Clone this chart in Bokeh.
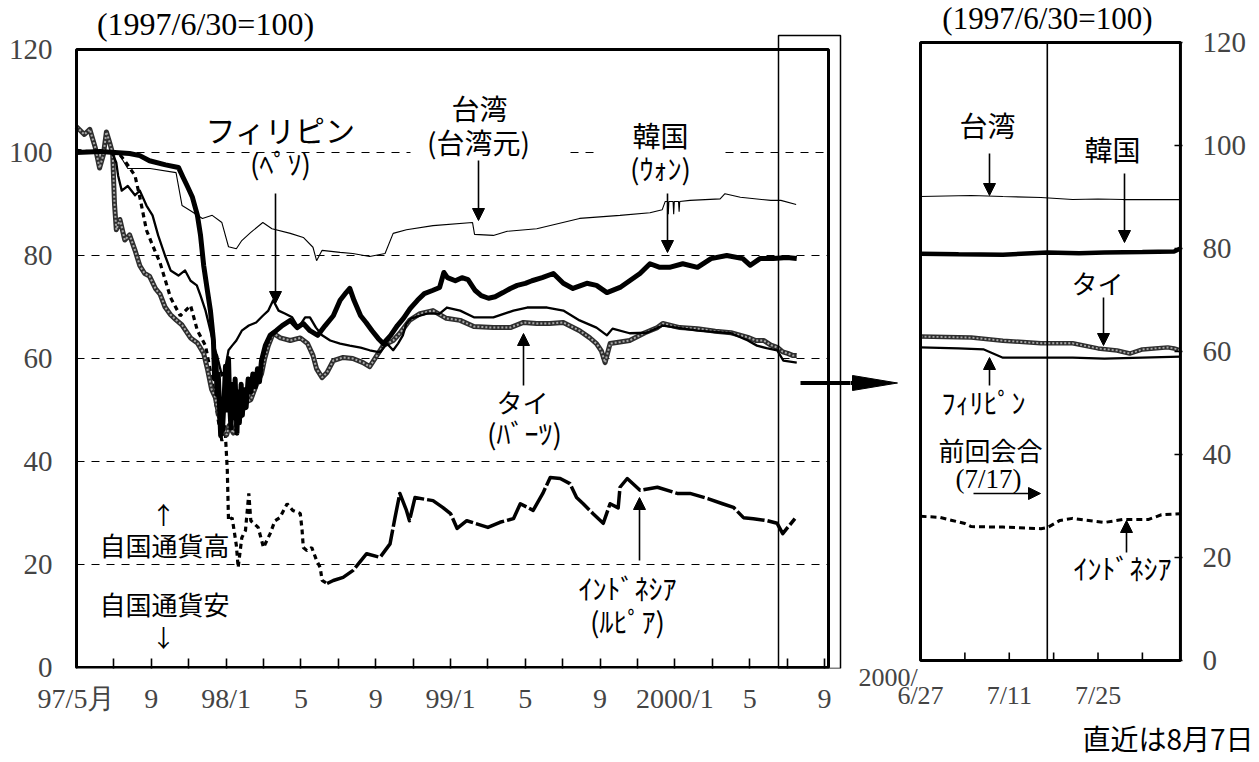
import pandas as pd
from bokeh.plotting import figure
from bokeh.models import Range1d, FixedTicker, Label, Arrow, NormalHead, Title
from bokeh.layouts import row
from bokeh.embed import file_html
from bokeh.resources import INLINE

# ---------------- data : left panel (1997/6/30 = 100) ----------------
twd_dates = ["1997-05-01","1997-07-08","1997-07-24","1997-08-30","1997-10-11","1997-10-21","1997-11-04","1997-11-23","1997-12-09","1997-12-25",
             "1998-01-05","1998-01-18","1998-01-27","1998-02-10","1998-02-28","1998-03-15","1998-04-14","1998-05-05","1998-05-21","1998-05-27",
             "1998-06-05","1998-07-04","1998-07-25","1998-08-22","1998-09-16","1998-09-29","1998-10-21","1998-12-03","1999-02-06","1999-02-09",
             "1999-03-10","1999-04-02","1999-05-20","1999-07-29","1999-10-03","1999-11-21","1999-12-11","1999-12-16","1999-12-20","1999-12-21",
             "1999-12-22","1999-12-29","1999-12-30","1999-12-31","2000-01-07","2000-01-08","2000-01-09","2000-01-26","2000-03-14","2000-03-22",
             "2000-04-16","2000-06-05","2000-06-21","2000-07-16"]
twd_vals = [100,100,96.9,96.9,96.1,89.7,88.7,87.2,87.8,86.4,
            81.7,81.3,82.9,84.5,86.4,85.2,84.3,83.5,81.6,79.0,
            81.0,80.6,80.4,79.8,80.4,84.3,85.0,85.8,86.4,84.1,
            83.9,84.7,85.2,87.2,87.8,88.3,88.9,90.5,90.5,88.0,
            90.5,90.5,88.0,90.5,90.5,88.5,90.5,90.7,91.0,92.0,
            91.3,90.7,90.7,89.9]

kor_dates = ["1997-05-01","1997-06-09","1997-07-27","1997-08-13","1997-08-29","1997-09-24","1997-10-15","1997-10-23","1997-10-30","1997-11-07",
             "1997-11-15","1997-11-20","1997-11-25","1997-12-01","1997-12-06",
             "1997-12-11","1997-12-13","1997-12-15","1997-12-17","1997-12-19","1997-12-22","1997-12-23","1997-12-24","1997-12-26","1997-12-29",
             "1997-12-31","1998-01-02","1998-01-05","1998-01-07","1998-01-09","1998-01-12","1998-01-14","1998-01-16","1998-01-19","1998-01-21",
             "1998-01-23","1998-01-26","1998-01-28","1998-01-30","1998-02-03","1998-02-06","1998-02-10","1998-02-13","1998-02-17","1998-02-20",
             "1998-02-23","1998-02-26",
             "1998-03-04","1998-03-12","1998-03-22","1998-04-01","1998-04-14","1998-04-25","1998-05-05","1998-05-16","1998-05-29","1998-06-10",
             "1998-06-23","1998-07-04","1998-07-14","1998-07-20","1998-07-27","1998-08-07","1998-08-16","1998-08-26","1998-09-05","1998-09-13",
             "1998-09-25","1998-10-06","1998-10-16","1998-10-27","1998-11-08","1998-11-19","1998-12-02","1998-12-14","1998-12-21","1998-12-27",
             "1999-01-09","1999-01-20","1999-01-30","1999-02-10","1999-02-19","1999-03-02","1999-03-13","1999-03-26","1999-04-07","1999-04-18",
             "1999-05-01","1999-05-12","1999-05-29","1999-06-16","1999-07-02","1999-07-18","1999-08-10","1999-08-26","1999-09-12","1999-10-03",
             "1999-10-19","1999-11-05","1999-11-21","1999-12-07","1999-12-23","2000-01-14","2000-02-07","2000-02-28","2000-03-25","2000-04-20",
             "2000-05-02","2000-05-18","2000-06-09","2000-07-01","2000-07-17"]
kor_vals = [100,100.2,99.8,99.4,98.4,97.6,97.1,95.1,93.4,91.3,
            87.8,83.9,78.1,73.2,69.3,
            63.5,56.0,60.5,53.0,57.0,48.0,45.0,52.0,46.0,53.0,
            58.5,50.0,60.0,51.0,46.5,55.0,48.5,56.0,45.5,53.5,
            47.5,55.0,49.0,54.0,50.5,56.0,53.5,57.0,54.5,58.0,
            55.5,59.6,
            62.5,64.5,65.4,66.4,67.4,66.0,66.8,65.4,64.5,66.4,
            68.3,71.3,72.8,73.6,71.3,68.3,67.0,65.4,63.9,62.9,
            64.5,66.4,67.8,69.7,71.3,72.6,73.2,73.8,76.7,75.7,
            75.1,75.7,75.3,73.2,72.2,71.7,72.0,72.8,73.6,74.2,
            74.6,75.1,75.7,76.5,74.6,73.6,74.6,74.2,72.8,73.8,
            75.1,76.5,78.4,77.7,77.7,78.4,77.7,79.4,80.0,79.4,
            78.1,79.4,79.4,79.6,79.4]

thb_dates = ["1997-05-01","1997-05-14","1997-05-23","1997-06-01","1997-06-08","1997-06-14","1997-06-19","1997-06-24","1997-06-29","1997-07-02",
             "1997-07-05","1997-07-11","1997-07-19","1997-07-27","1997-08-05","1997-08-13","1997-08-21","1997-08-29","1997-09-08","1997-09-15",
             "1997-09-23","1997-10-02","1997-10-11","1997-10-21","1997-11-04","1997-11-15","1997-11-25","1997-12-01","1997-12-08","1997-12-14",
             "1997-12-20","1997-12-27","1998-01-02","1998-01-06","1998-01-13","1998-01-19","1998-01-26","1998-02-02","1998-02-10","1998-02-18",
             "1998-02-26","1998-03-03","1998-03-09","1998-03-17","1998-03-29","1998-04-14","1998-04-30","1998-05-12","1998-05-21","1998-05-27",
             "1998-06-05","1998-06-13","1998-06-23","1998-07-09","1998-07-25","1998-08-11","1998-08-22","1998-09-03","1998-09-13","1998-09-29",
             "1998-10-10","1998-10-26","1998-11-12","1998-12-03","1998-12-25","1999-01-17","1999-02-08","1999-03-10","1999-04-07","1999-04-28",
             "1999-05-20","1999-06-10","1999-07-02","1999-07-29","1999-08-15","1999-08-26","1999-09-03","1999-09-09","1999-09-17","1999-10-03",
             "1999-10-19","1999-11-13","1999-12-03","1999-12-12","2000-01-09","2000-02-07","2000-03-06","2000-04-01","2000-04-28","2000-05-11",
             "2000-05-24","2000-06-05","2000-06-16","2000-06-24","2000-07-02","2000-07-10","2000-07-17"]
thb_vals = [105,103.5,104.5,101,97,99.5,104,102,99.8,90,
            85,87,83,84,81,78,76.5,76,73.5,72.5,
            70,68.5,67.5,66.5,64,63,61,58,54,52.5,
            49,46.5,45.2,47,45.5,47.5,49,51.5,52,54.8,
            57,60,62.5,64.9,64,63.5,64,62.9,60.6,58,
            56.3,57.3,59.6,60.2,60,59.2,58.4,60.6,62.5,63.5,
            64.9,67.4,68.7,69.3,67.8,67.4,66.2,66,66,67,
            66.8,66.8,67,65.4,64,62.9,61.5,59.2,62.9,63.2,
            63.5,65,66,66.8,66,65.8,65.3,65,64.1,63.5,
            63.5,62.6,62.1,61.3,61,60.6,60.6]

php_dates = ["1997-05-01","1997-06-28","1997-07-05","1997-07-08","1997-07-14","1997-07-24","1997-08-05","1997-08-13","1997-08-24","1997-09-03",
             "1997-09-12","1997-09-23","1997-10-02","1997-10-15","1997-10-26","1997-11-04","1997-11-14","1997-11-20","1997-11-28","1997-12-06",
             "1997-12-12","1997-12-19","1997-12-25","1997-12-30","1998-01-05","1998-01-11","1998-01-18","1998-01-27","1998-02-07","1998-02-18",
             "1998-02-28","1998-03-09","1998-03-17","1998-03-26","1998-04-06","1998-04-17","1998-04-27","1998-05-08","1998-05-16","1998-05-26",
             "1998-06-05","1998-06-18","1998-07-04","1998-07-20","1998-08-07","1998-08-22","1998-09-08","1998-09-19","1998-09-29","1998-10-07",
             "1998-10-15","1998-10-21","1998-10-29","1998-11-12","1998-11-23","1998-12-14","1998-12-26","1999-01-17","1999-02-08","1999-03-10",
             "1999-04-12","1999-05-04","1999-05-20","1999-06-06","1999-07-02","1999-07-29","1999-08-26","1999-09-12","1999-09-21","1999-10-19",
             "1999-11-16","1999-12-12","2000-02-07","2000-04-01","2000-04-28","2000-05-13","2000-05-29","2000-06-15","2000-06-25","2000-07-06",
             "2000-07-17"]
php_vals = [100,100,98,95.5,92.6,93.5,91.7,92.6,89.7,87.8,
            83.9,80,77.1,76.1,77.1,75.1,74.2,72.2,69.3,65.4,
            62.5,59.6,56.7,57.7,61.6,62.5,63.5,65.4,66.4,67,
            68.3,69.3,71.3,69.3,68.7,68,66,68,68,66,
            64.5,63.5,62.9,62.5,62.1,61.6,61.2,62.9,61.6,62.9,
            64.5,66.8,67.8,68.3,68.7,68.7,69.9,69.3,68,68,
            69.3,69.9,69.9,69.9,69.3,67.4,66,64.5,65.8,64.9,
            65,66.4,65.4,64.9,63.5,62.5,62,61.6,59.6,59.4,
            59.2]

idr_dates = ["1997-05-01","1997-06-09","1997-07-08","1997-07-19","1997-08-05","1997-08-13","1997-08-24","1997-09-03","1997-09-15","1997-10-02",
             "1997-10-18","1997-11-04","1997-11-15","1997-11-28","1997-12-09","1997-12-19","1997-12-25","1997-12-30","1998-01-03","1998-01-05",
             "1998-01-11","1998-01-18","1998-01-21","1998-01-27","1998-02-02","1998-02-07","1998-02-10","1998-02-21","1998-03-01","1998-03-12",
             "1998-03-20","1998-03-28","1998-04-09","1998-04-18","1998-04-30","1998-05-03","1998-05-05","1998-05-11","1998-05-19","1998-05-27",
             "1998-06-02","1998-06-05","1998-06-13","1998-06-23","1998-07-09","1998-07-25","1998-08-17","1998-09-08","1998-09-24","1998-10-02",
             "1998-10-10","1998-10-21","1998-10-26","1998-11-04","1998-12-03","1998-12-19","1999-01-01","1999-01-12","1999-01-28","1999-03-01",
             "1999-03-21","1999-04-12","1999-04-23","1999-05-14","1999-05-30","1999-06-11","1999-06-27","1999-07-13","1999-07-24","1999-08-04",
             "1999-08-20","1999-09-06","1999-09-17","1999-09-30","1999-10-03","1999-10-15","1999-11-05","1999-12-03","2000-01-05","2000-01-26",
             "2000-02-23","2000-03-18","2000-04-05","2000-04-21","2000-05-07","2000-05-30","2000-06-15","2000-06-24","2000-07-02","2000-07-14"]
idr_vals = [100.4,100,100,98.4,95.5,91.3,84.9,82,78.6,71.8,
            68.3,70.3,65.4,62.5,55.7,48,44,47,38.3,28.5,
            29.1,23.7,19.4,25.2,26.6,33.8,28.5,27.2,23.3,26,
            28.5,29.1,31.8,30.5,29.9,26.6,23.3,22.7,23.3,20.8,
            19.4,16.9,16.3,16.9,17.5,18.8,22.1,21.4,24,29.1,
            33.8,30.5,28.5,33,32.4,31.1,29.9,27,28.5,27.2,
            28.2,28.9,31.8,30.5,33.8,36.9,36.7,35.7,33,31.8,
            29.9,28,31.8,31,35,36.7,34.4,35,33.8,33.8,
            32.8,31.8,31.1,29.1,28.9,28.5,28,26,27.2,28.9]
idr_dashed_until = "1998-06-13"

left_ticks = list(range(0, 41, 2))
left_tick_labels = {0: "97/5月", 4: "9", 8: "98/1", 12: "5", 16: "9", 20: "99/1",
                    24: "5", 28: "9", 32: "2000/1", 36: "5", 40: "9"}
y_ticks = [0, 20, 40, 60, 80, 100, 120]
grid_levels = [20, 40, 60, 80]

# ---------------- data : right panel (zoom 2000/6/27 - 8/7) ----------------
zoom_start = "2000-06-27"
zoom_last = "2000-08-07"
meeting_date = "2000-07-17"
zoom_twd_dates = ["2000-06-27","2000-07-01","2000-07-05","2000-07-10","2000-07-16","2000-07-21","2000-07-25","2000-07-29","2000-08-03","2000-08-07"]
zoom_twd_vals = [90.1,90.2,90.3,90.1,89.9,89.5,89.6,89.5,89.5,89.5]
zoom_kor_dates = ["2000-06-27","2000-07-03","2000-07-10","2000-07-17","2000-07-22","2000-07-26","2000-08-01","2000-08-06","2000-08-07"]
zoom_kor_vals = [79.0,78.9,78.8,79.2,79.1,79.2,79.3,79.4,80.0]
zoom_thb_dates = ["2000-06-27","2000-07-01","2000-07-05","2000-07-10","2000-07-16","2000-07-21","2000-07-25","2000-07-28","2000-07-30","2000-08-01","2000-08-05","2000-08-06","2000-08-07"]
zoom_thb_vals = [62.9,62.8,62.7,62.1,61.6,61.6,60.6,60.2,59.6,60.4,60.8,60.6,60.2]
zoom_php_dates = ["2000-06-27","2000-07-03","2000-07-07","2000-07-10","2000-07-17","2000-07-21","2000-07-26","2000-08-01","2000-08-07"]
zoom_php_vals = [60.8,60.6,60.4,58.8,58.8,58.8,58.6,58.8,59.0]
zoom_idr_dates = ["2000-06-27","2000-06-30","2000-07-02","2000-07-04","2000-07-05","2000-07-10","2000-07-16","2000-07-17","2000-07-19","2000-07-21","2000-07-26","2000-07-29","2000-08-02","2000-08-04","2000-08-07"]
zoom_idr_vals = [28.0,27.8,27.2,26.6,26.0,25.9,25.6,25.8,27.2,27.6,26.8,27.4,27.4,28.3,28.5]
right_ticks = [0, 7, 14, 21, 28, 35]
NB = "\u00a0"
right_tick_labels = {0: "2000/" + NB * 10 + "\n" + NB * 6 + "6/27" + NB * 6,
                     7: NB + "\n" + NB, 14: NB + "\n7/11", 21: NB + "\n" + NB, 28: NB + "\n7/25", 35: NB + "\n" + NB}
caption = "直近は8月7日"

# ---------------- helpers ----------------
JP = "Noto Sans CJK JP"
SERIF = "Liberation Serif"


def to_months(dates):
    d = pd.to_datetime(pd.Series(dates))
    return list((d.dt.year - 1997) * 12 + (d.dt.month - 5) + (d.dt.day - 1) / d.dt.days_in_month)


def to_days(dates):
    d = pd.to_datetime(pd.Series(dates))
    return list((d - pd.Timestamp(zoom_start)).dt.days.astype(float))


# page-pixel -> data helpers (used only for annotation placement)
def lx(px): return (px - 76) / 18.7
def ly(py): return (667 - py) / 5.15
def rx(px): return (px - 920) / 6.34
def ry(py): return (660 - py) / 5.15


def label(p, x, y, text, size, font=JP, **kw):
    p.add_layout(Label(x=x, y=y, text=text, text_font=font, text_font_size=f"{size}px",
                       text_align="center", text_baseline="middle", text_color="black", **kw))


def arrow(p, x0, y0, x1, y1):
    p.add_layout(Arrow(end=NormalHead(size=12, fill_color="black", line_color="black", line_width=1),
                       x_start=x0, y_start=y0, x_end=x1, y_end=y1, line_width=1.6, line_color="black"))


def thai(p, x, y, w):
    p.line(x, y, line_color="#2e2e2e", line_width=w, line_join="round")
    p.line(x, y, line_color="#a8a8a8", line_width=w * 0.4, line_dash="2 2")


def style_common(p):
    p.outline_line_color = None
    p.xgrid.visible = False
    p.ygrid.visible = False
    p.background_fill_color = "white"
    p.border_fill_color = "white"


FRAME_BOTTOM = 668   # both frames share this bottom edge (row aligns plot frames)
FIG_H = 760

# ---------------- left panel ----------------
left = figure(width=850, height=FIG_H, x_range=Range1d(lx(73), lx(850)), y_range=Range1d(ly(FRAME_BOTTOM), ly(0)),
              output_backend="svg", toolbar_location=None,
              min_border_left=73, min_border_right=0, min_border_top=0, min_border_bottom=FIG_H - FRAME_BOTTOM)
style_common(left)

xa = left.xaxis[0]
xa.ticker = FixedTicker(ticks=left_ticks)
xa.major_label_overrides = {t: left_tick_labels.get(t, "") for t in left_ticks}
xa.axis_line_color = None
xa.major_tick_in = 10
xa.major_tick_out = 0
xa.major_tick_line_width = 1.6
xa.minor_tick_line_color = None
xa.major_label_text_font = SERIF
xa.major_label_text_font_size = "28px"
xa.major_label_standoff = 14

ya = left.yaxis[0]
ya.ticker = FixedTicker(ticks=y_ticks)
ya.axis_line_color = None
ya.major_tick_in = 0
ya.major_tick_out = 0
ya.minor_tick_line_color = None
ya.major_label_text_font = SERIF
ya.major_label_text_font_size = "29px"
ya.major_label_standoff = 21

x_right_edge = lx(828)
# dashed reference lines
left.segment(x0=[0] * len(grid_levels), x1=[x_right_edge] * len(grid_levels), y0=grid_levels, y1=grid_levels,
             line_color="black", line_width=1.2, line_dash="8 7")
left.segment(x0=[0, lx(570), lx(725)], x1=[lx(410), lx(593), x_right_edge], y0=[100] * 3, y1=[100] * 3,
             line_color="black", line_width=1.2, line_dash="8 7")

# series
idr_x = to_months(idr_dates)
n_early = sum(1 for d in idr_dates if d <= idr_dashed_until)
left.line(idr_x[:n_early], idr_vals[:n_early], line_color="black", line_width=3.2, line_dash="5 4")
left.line(idr_x[n_early - 1:], idr_vals[n_early - 1:], line_color="black", line_width=3.5, line_dash="30 3",
          line_join="round")
thai(left, to_months(thb_dates), thb_vals, 5)
left.line(to_months(php_dates), php_vals, line_color="black", line_width=2.3, line_join="round")
left.line(to_months(twd_dates), twd_vals, line_color="black", line_width=1.1)
left.line(to_months(kor_dates), kor_vals, line_color="black", line_width=5, line_join="round")

# frame + highlight box
left.quad(left=[0], right=[x_right_edge], bottom=[0], top=[120], fill_color=None, line_color="black", line_width=3)
left.quad(left=[lx(778)], right=[lx(840)], bottom=[ly(668)], top=[ly(35)], fill_color=None,
          line_color="black", line_width=1.5)
# connecting arrow shaft (left part)
left.segment(x0=[lx(800)], x1=[lx(860)], y0=[ly(382.5)], y1=[ly(382.5)], line_color="black", line_width=4)

# annotations
label(left, lx(205), ly(23), "(1997/6/30=100)", 32, SERIF)
label(left, lx(280), ly(128), "フィリピン", 30)
label(left, lx(280), ly(162), "(ﾍﾟｿ)", 28)
arrow(left, lx(275), ly(193), lx(275), ly(303))
label(left, lx(479), ly(107), "台湾", 28)
label(left, lx(478), ly(141), "(台湾元)", 28)
arrow(left, lx(478), ly(160), lx(478), ly(220))
label(left, lx(660), ly(134), "韓国", 28)
label(left, lx(660), ly(167), "(ｳｫﾝ)", 28)
arrow(left, lx(667), ly(193), lx(667), ly(252))
label(left, lx(522), ly(401), "タイ", 26)
label(left, lx(524), ly(432), "(ﾊﾞｰﾂ)", 28)
arrow(left, lx(523), ly(385), lx(523), ly(333))
label(left, lx(627), ly(587), "ｲﾝﾄﾞﾈｼｱ", 28)
label(left, lx(627), ly(620), "(ﾙﾋﾟｱ)", 28)
arrow(left, lx(639), ly(560), lx(639), ly(497))
label(left, lx(163), ly(513), "↑", 24)
label(left, lx(164), ly(544), "自国通貨高", 26)
label(left, lx(164), ly(603), "自国通貨安", 26)
label(left, lx(163), ly(636), "↓", 24)

# ---------------- right panel ----------------
right = figure(width=405, height=FIG_H, x_range=Range1d(rx(850), rx(1182)), y_range=Range1d(ry(FRAME_BOTTOM), ry(0)),
               output_backend="svg", toolbar_location=None, y_axis_location="right",
               min_border_left=0, min_border_right=73, min_border_top=0, min_border_bottom=FIG_H - FRAME_BOTTOM)
style_common(right)

rxa = right.xaxis[0]
rxa.ticker = FixedTicker(ticks=right_ticks)
rxa.major_label_overrides = right_tick_labels
rxa.axis_line_color = None
rxa.major_tick_line_color = None
rxa.minor_tick_line_color = None
rxa.major_tick_in = 0
rxa.major_tick_out = 0
rxa.major_label_text_font = SERIF
rxa.major_label_text_font_size = "26px"
rxa.major_label_text_line_height = 0.65
rxa.major_label_standoff = -6

rya = right.yaxis[0]
rya.ticker = FixedTicker(ticks=y_ticks)
rya.axis_line_color = None
rya.major_tick_in = 8
rya.major_tick_out = 0
rya.major_tick_line_width = 1.6
rya.minor_tick_line_color = None
rya.major_label_text_font = SERIF
rya.major_label_text_font_size = "29px"
rya.major_label_standoff = 20

zoom_end = to_days([zoom_last])[0]
right.line(to_days(zoom_idr_dates), zoom_idr_vals, line_color="black", line_width=3, line_dash="6 4")
thai(right, to_days(zoom_thb_dates), zoom_thb_vals, 4.5)
right.line(to_days(zoom_php_dates), zoom_php_vals, line_color="black", line_width=2.2)
right.line(to_days(zoom_twd_dates), zoom_twd_vals, line_color="black", line_width=1.1)
right.line(to_days(zoom_kor_dates), zoom_kor_vals, line_color="black", line_width=4.5)

meet_x = to_days([meeting_date])[0]
right.segment(x0=[meet_x], x1=[meet_x], y0=[0], y1=[120], line_color="black", line_width=1.6)
right.quad(left=[0], right=[zoom_end], bottom=[0], top=[120], fill_color=None, line_color="black", line_width=3)
# x tick marks on the panel's bottom edge (pointing inward)
tick_len = ry(652)
right.segment(x0=right_ticks[1:], x1=right_ticks[1:], y0=[0] * (len(right_ticks) - 1),
              y1=[tick_len] * (len(right_ticks) - 1), line_color="black", line_width=1.6)

# connecting arrow (right part)
right.segment(x0=[rx(840)], x1=[rx(858)], y0=[ry(382.5)], y1=[ry(382.5)], line_color="black", line_width=4)
right.patch(x=[rx(852), rx(852), rx(897)], y=[ry(375), ry(390), ry(382.5)], fill_color="black", line_color="black")

label(right, rx(1047), ry(18), "(1997/6/30=100)", 31, SERIF)
label(right, rx(987), ry(124), "台湾", 28)
arrow(right, rx(989), ry(153), rx(989), ry(195))
label(right, rx(1112), ry(148), "韓国", 28)
arrow(right, rx(1124), ry(173), rx(1124), ry(242))
label(right, rx(1097), ry(282), "タイ", 26)
arrow(right, rx(1103), ry(297), rx(1103), ry(345))
arrow(right, rx(989), ry(385), rx(989), ry(357))
label(right, rx(983), ry(401), "ﾌｨﾘﾋﾟﾝ", 28)
label(right, rx(990), ry(449), "前回会合", 26)
label(right, rx(988), ry(478), "(7/17)", 27, SERIF)
arrow(right, rx(973), ry(493), rx(1040), ry(493))
label(right, rx(1122), ry(567), "ｲﾝﾄﾞﾈｼｱ", 28)
arrow(right, rx(1126), ry(552), rx(1126), ry(520))

right.add_layout(Title(text=caption, align="right", offset=-71, standoff=4, text_font=JP,
                       text_font_size="28px", text_font_style="normal", text_color="black"), "below")

layout = row(left, right)
open("out.html", "w").write(file_html(layout, INLINE))
